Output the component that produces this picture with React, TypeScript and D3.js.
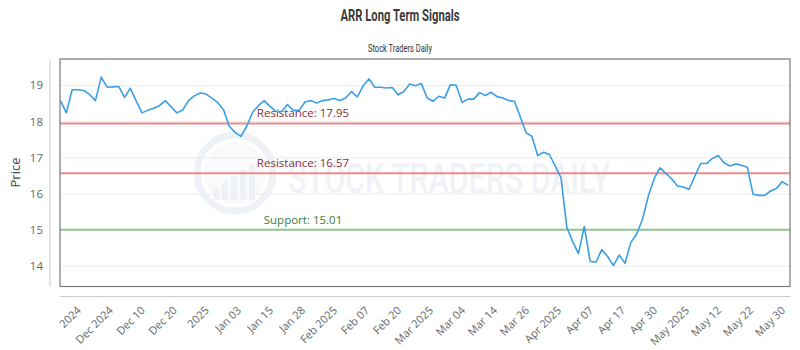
import React from "react";
import * as d3 from "d3";

// Daily closing prices
const prices: number[] = [
  18.58, 18.24, 18.88, 18.88, 18.86, 18.75, 18.58, 19.23, 18.95, 18.96,
  18.97, 18.67, 18.92, 18.57, 18.24, 18.31, 18.37, 18.44, 18.58, 18.41,
  18.24, 18.32, 18.58, 18.71, 18.79, 18.76, 18.65, 18.53, 18.33, 17.87,
  17.70, 17.59, 17.87, 18.25, 18.44, 18.58, 18.42, 18.28, 18.28, 18.47,
  18.31, 18.31, 18.54, 18.58, 18.51, 18.58, 18.60, 18.64, 18.58, 18.65,
  18.83, 18.68, 18.99, 19.18, 18.95, 18.95, 18.93, 18.94, 18.74, 18.83,
  19.04, 18.99, 19.05, 18.65, 18.56, 18.70, 18.65, 19.02, 19.00, 18.53,
  18.62, 18.62, 18.80, 18.72, 18.81, 18.69, 18.65, 18.58, 18.56, 18.13,
  17.69, 17.59, 17.06, 17.15, 17.09, 16.77, 16.45, 15.07, 14.68, 14.35,
  15.10, 14.14, 14.11, 14.46, 14.27, 14.02, 14.31, 14.08, 14.66, 14.89,
  15.30, 15.94, 16.42, 16.72, 16.57, 16.42, 16.22, 16.19, 16.13, 16.49,
  16.84, 16.84, 16.98, 17.06, 16.86, 16.77, 16.83, 16.79, 16.74, 15.99,
  15.96, 15.96, 16.08, 16.15, 16.34, 16.24,
];

const tickLabels: string[] = [
  "2024", "Dec 2024", "Dec 10", "Dec 20", "2025", "Jan 03", "Jan 15", "Jan 28",
  "Feb 2025", "Feb 07", "Feb 20", "Mar 2025", "Mar 04", "Mar 14", "Mar 26",
  "Apr 2025", "Apr 07", "Apr 17", "Apr 30", "May 2025", "May 12", "May 22", "May 30",
];
const firstTickIndex = 4;

const yTicks: number[] = [14, 15, 16, 17, 18, 19];
const yDomain: [number, number] = [13.44, 19.73];

const levels = [
  { label: "Resistance", value: 17.95, kind: "res" },
  { label: "Resistance", value: 16.57, kind: "res" },
  { label: "Support", value: 15.01, kind: "sup" },
];

export default function App() {
  const W = 800;
  const H = 350;
  const frameL = 60;
  const frameR = 790;
  const frameT = 59;
  const frameB = 286.5;

  const x = d3.scaleLinear().domain([0, prices.length - 1]).range([60.5, 788]);
  const y = d3.scaleLinear().domain(yDomain).range([frameB, frameT]);

  const line = d3
    .line<number>()
    .x((_, i) => x(i))
    .y((d) => y(d));

  const tickStep = (prices.length - 1 - firstTickIndex) / (tickLabels.length - 1);
  const labelX = x.range()[0] + (x.range()[1] - x.range()[0]) / 3;

  const xFont = "'Open Sans', sans-serif";

  return (
    <svg
      width={W}
      height={H}
      viewBox={`0 0 ${W} ${H}`}
      style={{ position: "absolute", left: 0, top: 0, background: "#fff" }}
    >
      {/* Title */}
      <text
        x={400}
        y={20.7}
        textAnchor="middle"
        fontFamily="Roboto, sans-serif"
        fontWeight={700}
        fontSize={16.5}
        fill="#3a3a3a"
        textLength={119}
        lengthAdjust="spacingAndGlyphs"
      >
        ARR Long Term Signals
      </text>
      <text
        x={400}
        y={52}
        textAnchor="middle"
        fontFamily="Roboto, sans-serif"
        fontSize={11}
        fill="#333"
        textLength={64}
        lengthAdjust="spacingAndGlyphs"
      >
        Stock Traders Daily
      </text>

      {/* Watermark */}
      <g opacity={0.4}>
        <circle cx={235} cy={173} r={38} fill="none" stroke="#d5e1ec" strokeWidth={7} />
        <circle cx={235} cy={173} r={31} fill="#eef3f8" />
        {[0, 1, 2, 3, 4].map((k) => (
          <rect
            key={k}
            x={213 + k * 9}
            y={200 - (12 + k * 6)}
            width={6}
            height={12 + k * 6}
            fill="#d5e1ec"
          />
        ))}
        <text
          x={288}
          y={193}
          fontFamily="Roboto, sans-serif"
          fontWeight={500}
          fontSize={42}
          fill="#d8e2ec"
          textLength={322}
          lengthAdjust="spacingAndGlyphs"
        >
          STOCK TRADERS DAILY
        </text>
      </g>

      {/* Grid lines */}
      {yTicks.map((t) => (
        <line
          key={t}
          x1={frameL}
          x2={frameR}
          y1={y(t)}
          y2={y(t)}
          stroke="#ececec"
          strokeWidth={1}
        />
      ))}

      {/* Signal levels */}
      {levels.map((lv, i) => (
        <g key={i}>
          <line
            x1={frameL}
            x2={frameR}
            y1={y(lv.value)}
            y2={y(lv.value)}
            stroke={lv.kind === "res" ? "#ec8a8a" : "#8cc78c"}
            strokeWidth={2}
          />
          <text
            x={labelX}
            y={y(lv.value) - 6}
            textAnchor="middle"
            fontFamily={xFont}
            fontSize={11.5}
            fill={lv.kind === "res" ? "#8a2d35" : "#3d7d3d"}
          >
            {`${lv.label}: ${lv.value.toFixed(2)}`}
          </text>
        </g>
      ))}

      {/* Price line */}
      <path d={line(prices) || ""} fill="none" stroke="#3a9fe6" strokeWidth={1.6} strokeLinejoin="round" />

      {/* Plot frame */}
      <rect
        x={frameL}
        y={frameT}
        width={frameR - frameL}
        height={frameB - frameT}
        fill="none"
        stroke="#777"
        strokeWidth={1.2}
      />

      {/* Axis lines */}
      <line x1={50} x2={50} y1={frameT} y2={frameB} stroke="#ccc" strokeWidth={1} />
      <line x1={frameL} x2={frameR} y1={296.5} y2={296.5} stroke="#ccc" strokeWidth={1} />

      {/* Y ticks */}
      {yTicks.map((t) => (
        <text
          key={t}
          x={43}
          y={y(t)}
          dy="0.35em"
          textAnchor="end"
          fontFamily={xFont}
          fontSize={11.5}
          fill="#666"
        >
          {t}
        </text>
      ))}
      <text
        transform={`translate(20,172.5) rotate(-90)`}
        textAnchor="middle"
        fontFamily={xFont}
        fontSize={13}
        fill="#444"
      >
        Price
      </text>

      {/* X ticks */}
      {tickLabels.map((lab, k) => {
        const tx = x(firstTickIndex + k * tickStep);
        return (
          <text
            key={lab}
            transform={`translate(${tx - 2},311) rotate(-45)`}
            textAnchor="end"
            fontFamily={xFont}
            fontSize={11}
            fill="#666"
          >
            {lab}
          </text>
        );
      })}
    </svg>
  );
}
